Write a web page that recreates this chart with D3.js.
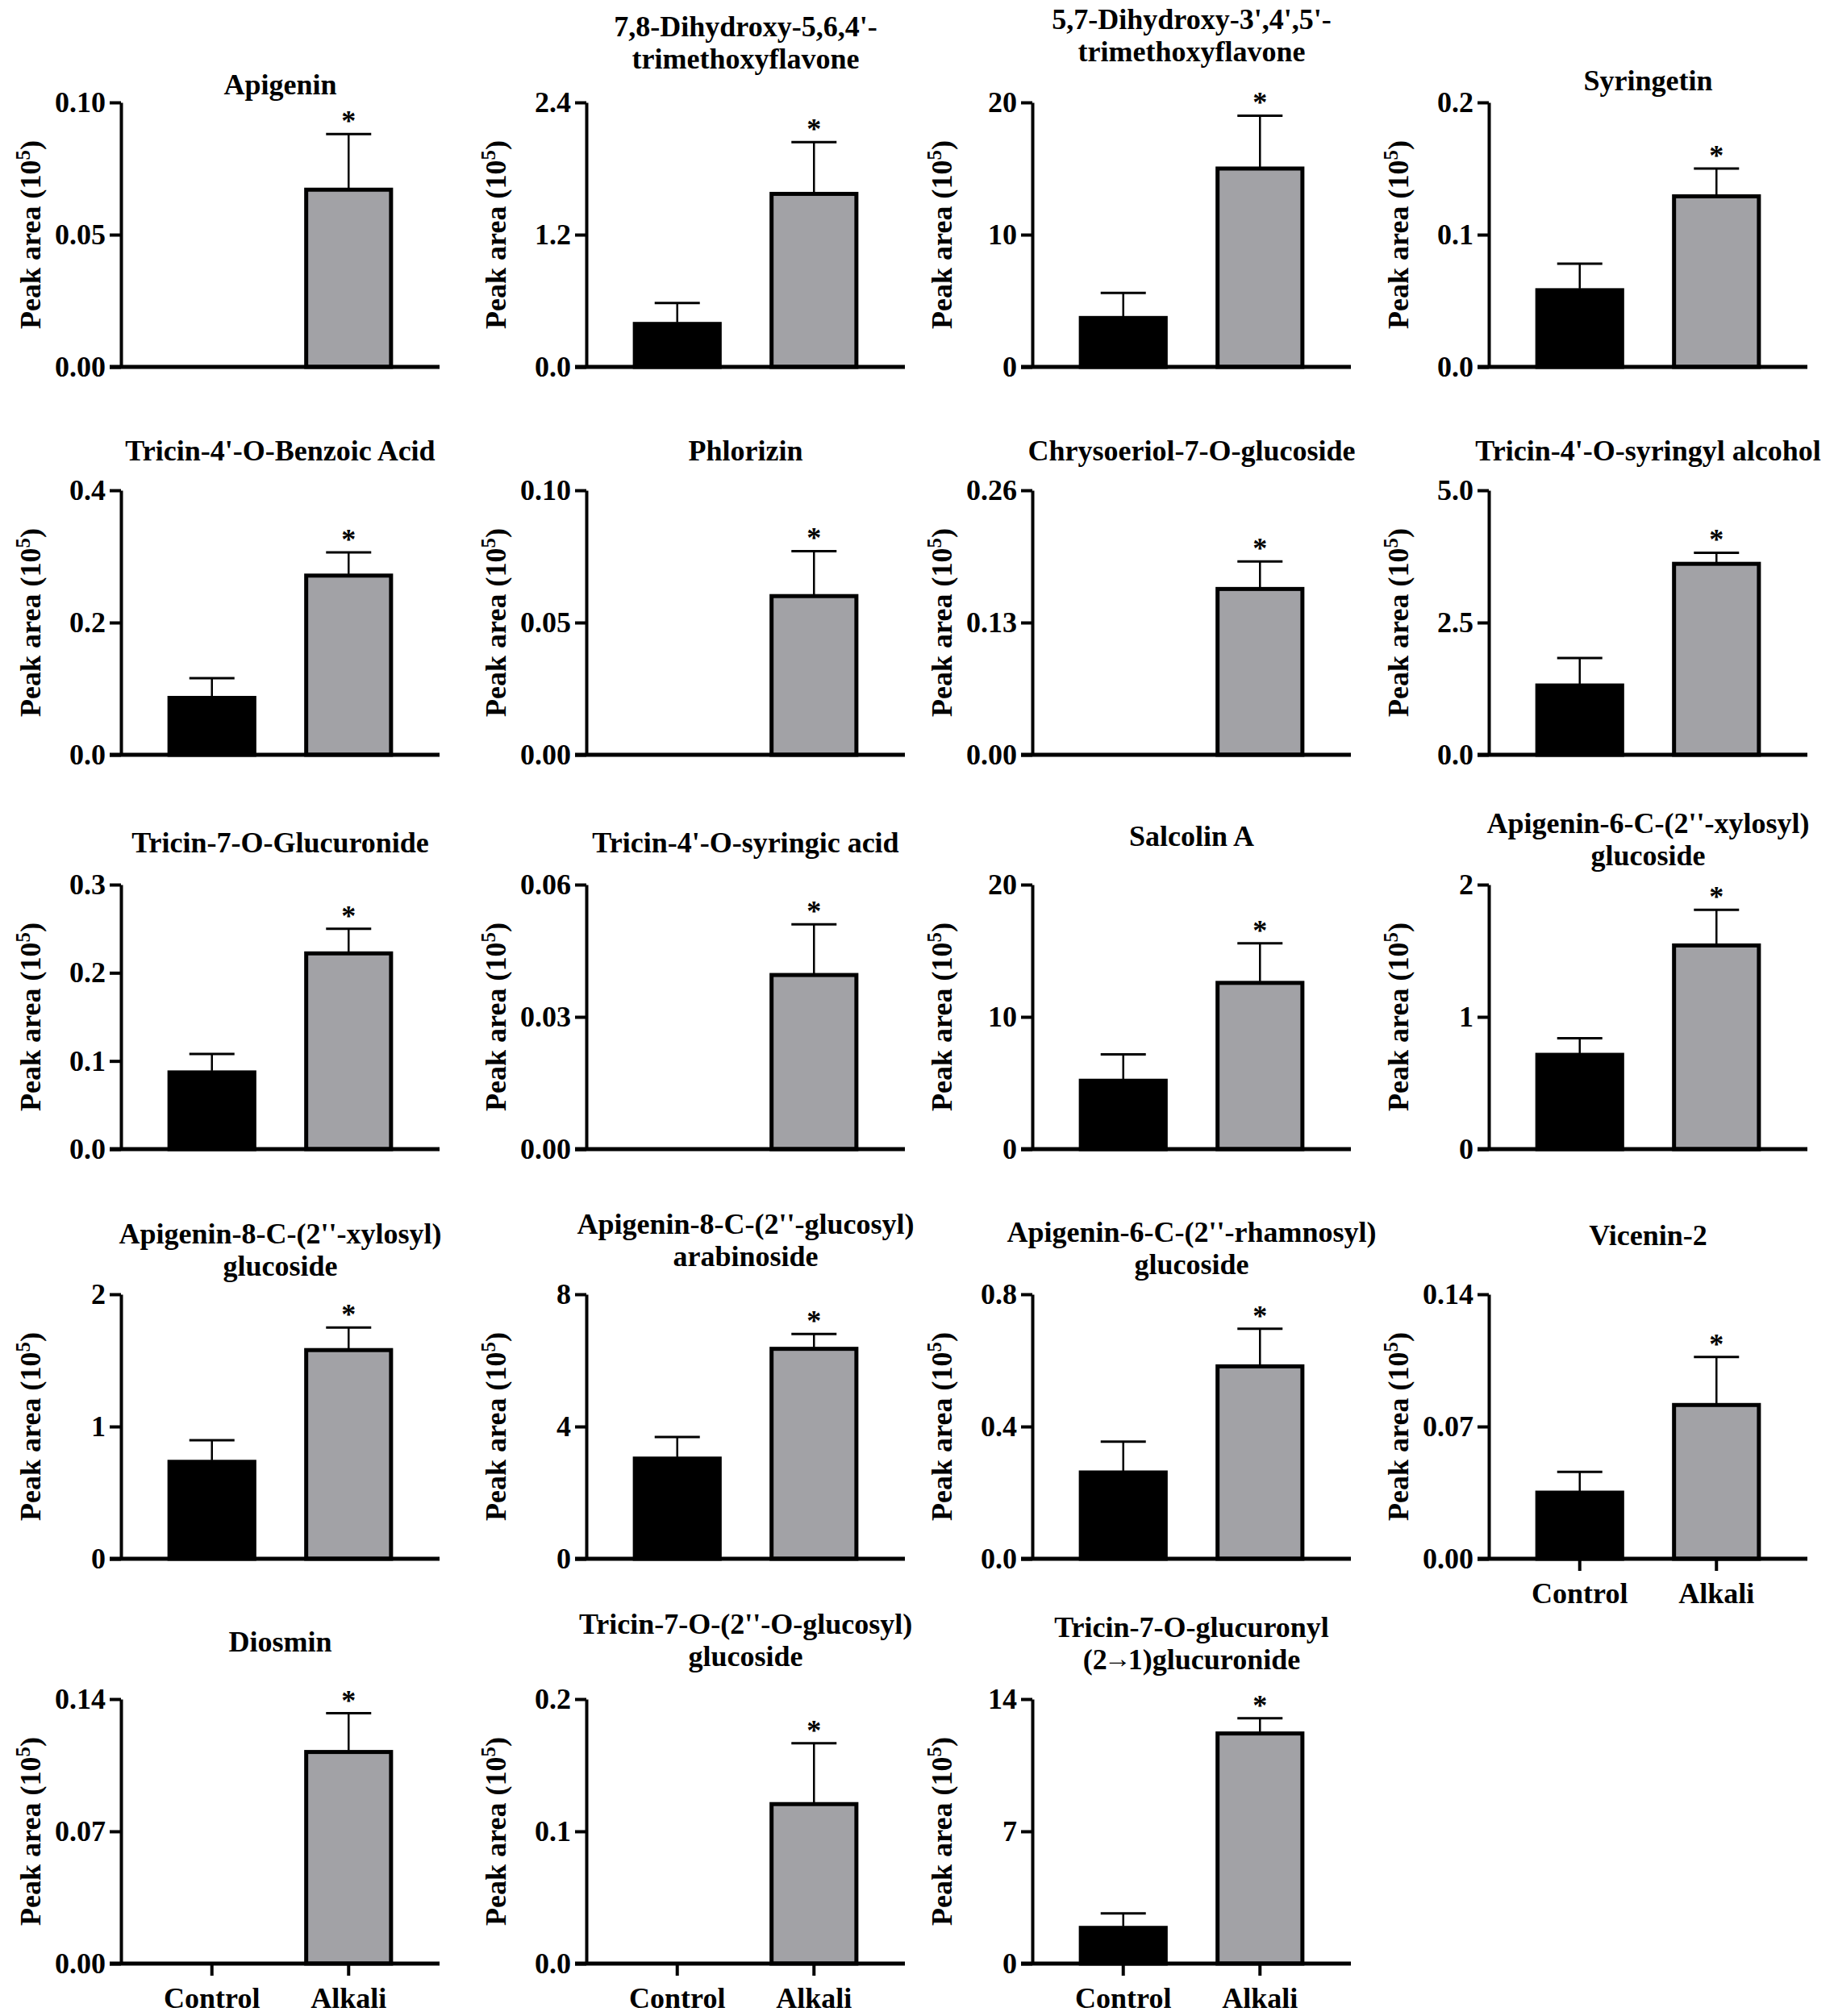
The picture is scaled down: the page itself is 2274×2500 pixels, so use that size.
<!DOCTYPE html>
<html>
<head>
<meta charset="utf-8">
<script src="https://cdn.jsdelivr.net/npm/d3@7"></script>
<style>
    body { margin: 0; background: #fff; }
    text { font-family: "Liberation Serif", "Times New Roman", serif; font-weight: bold; }
</style>
</head>
<body>
<div id="chart"></div>
<script>

// compound names (title lines)
const compounds = [
    ["Apigenin"],
    ["7,8-Dihydroxy-5,6,4'-", "trimethoxyflavone"],
    ["5,7-Dihydroxy-3',4',5'-", "trimethoxyflavone"],
    ["Syringetin"],
    ["Tricin-4'-O-Benzoic Acid"],
    ["Phlorizin"],
    ["Chrysoeriol-7-O-glucoside"],
    ["Tricin-4'-O-syringyl alcohol"],
    ["Tricin-7-O-Glucuronide"],
    ["Tricin-4'-O-syringic acid"],
    ["Salcolin A"],
    ["Apigenin-6-C-(2''-xylosyl)", "glucoside"],
    ["Apigenin-8-C-(2''-xylosyl)", "glucoside"],
    ["Apigenin-8-C-(2''-glucosyl)", "arabinoside"],
    ["Apigenin-6-C-(2''-rhamnosyl)", "glucoside"],
    ["Vicenin-2"],
    ["Diosmin"],
    ["Tricin-7-O-(2''-O-glucosyl)", "glucoside"],
    ["Tricin-7-O-glucuronyl", "(2\u21921)glucuronide"]
];

const groups = ["Control", "Alkali"];

// y tick labels per panel
const yTickLabels = [
    ["0.00", "0.05", "0.10"],
    ["0.0", "1.2", "2.4"],
    ["0", "10", "20"],
    ["0.0", "0.1", "0.2"],
    ["0.0", "0.2", "0.4"],
    ["0.00", "0.05", "0.10"],
    ["0.00", "0.13", "0.26"],
    ["0.0", "2.5", "5.0"],
    ["0.0", "0.1", "0.2", "0.3"],
    ["0.00", "0.03", "0.06"],
    ["0", "10", "20"],
    ["0", "1", "2"],
    ["0", "1", "2"],
    ["0", "4", "8"],
    ["0.0", "0.4", "0.8"],
    ["0.00", "0.07", "0.14"],
    ["0.00", "0.07", "0.14"],
    ["0.0", "0.1", "0.2"],
    ["0", "7", "14"]
];

// means and SDs (peak area, 10^5)
const controlMean = [0, 0.39, 3.7, 0.058, 0.086, 0, 0, 1.31, 0.087, 0, 5.17, 0.713, 0.733, 3.03, 0.261, 0.035, 0, 0, 1.89];
const controlSD   = [0, 0.19, 1.9, 0.020, 0.030, 0, 0, 0.52, 0.021, 0, 2.0, 0.126, 0.163, 0.65, 0.093, 0.011, 0, 0, 0.77];
const alkaliMean  = [0.067, 1.57, 15.0, 0.129, 0.271, 0.060, 0.163, 3.61, 0.222, 0.0395, 12.57, 1.54, 1.578, 6.35, 0.582, 0.0814, 0.112, 0.1206, 12.18];
const alkaliSD    = [0.021, 0.47, 4.0, 0.021, 0.035, 0.017, 0.027, 0.21, 0.028, 0.0115, 3.0, 0.27, 0.17, 0.45, 0.114, 0.0254, 0.0205, 0.046, 0.81];

// panel layout
const colX = [150, 727, 1280, 1846];
const rowY = [127, 608, 1097, 1605, 2107];
const titleGap = [10, 42, 51, 15, 37, 37, 37, 37, 40, 40, 48, 24, 23, 35, 25, 61, 59, 41, 37];
const showXLabels = [15, 16, 17, 18];


class barPanel {

    constructor(svg, index) {
        this.svg = svg;
        this.index = index;
        this.initVis();
    }

    initVis() {
        let vis = this;
        let i = vis.index;

        vis.width = 395;
        vis.height = 328;

        vis.g = vis.svg.append('g')
            .attr('transform', `translate(${colX[i % 4]}, ${rowY[Math.floor(i / 4)]})`);

        let ticks = yTickLabels[i].map(d => +d);

        vis.x = d3.scaleBand()
            .domain(groups)
            .range([0, vis.width])
            .paddingInner(0.35)
            .paddingOuter(0.34);

        vis.y = d3.scaleLinear()
            .domain([0, ticks[ticks.length - 1]])
            .range([vis.height, 0]);

        vis.data = [
            {group: "Control", mean: controlMean[i], sd: controlSD[i]},
            {group: "Alkali", mean: alkaliMean[i], sd: alkaliSD[i]}
        ];

        // bars
        vis.g.selectAll('.bar')
            .data(vis.data.filter(d => d.mean > 0))
            .enter().append('rect')
            .attr('class', 'bar')
            .attr('x', d => vis.x(d.group) + 2.5)
            .attr('width', vis.x.bandwidth() - 5)
            .attr('y', d => vis.y(d.mean))
            .attr('height', d => vis.height - vis.y(d.mean))
            .attr('fill', d => d.group === "Control" ? "#000" : "#a2a2a6")
            .attr('stroke', '#000')
            .attr('stroke-width', 5);

        // error bars (upper only)
        let err = vis.g.selectAll('.err')
            .data(vis.data.filter(d => d.sd > 0))
            .enter().append('g')
            .attr('class', 'err');

        err.append('line')
            .attr('x1', d => vis.x(d.group) + vis.x.bandwidth() / 2)
            .attr('x2', d => vis.x(d.group) + vis.x.bandwidth() / 2)
            .attr('y1', d => vis.y(d.mean) - 2)
            .attr('y2', d => vis.y(d.mean + d.sd))
            .attr('stroke', '#000')
            .attr('stroke-width', 2.5);

        err.append('line')
            .attr('x1', d => vis.x(d.group) + vis.x.bandwidth() / 2 - 28)
            .attr('x2', d => vis.x(d.group) + vis.x.bandwidth() / 2 + 28)
            .attr('y1', d => vis.y(d.mean + d.sd))
            .attr('y2', d => vis.y(d.mean + d.sd))
            .attr('stroke', '#000')
            .attr('stroke-width', 3);

        // significance mark
        let alk = vis.data[1];
        vis.g.append('text')
            .attr('x', vis.x("Alkali") + vis.x.bandwidth() / 2)
            .attr('y', vis.y(alk.mean + alk.sd) - 4)
            .attr('text-anchor', 'middle')
            .attr('font-size', 36)
            .text("*");

        // y axis
        vis.yAxis = d3.axisLeft(vis.y)
            .tickValues(ticks)
            .tickFormat((d, k) => yTickLabels[i][k])
            .tickSize(14)
            .tickSizeOuter(0)
            .tickPadding(5);

        vis.g.append('g')
            .attr('class', 'y-axis')
            .call(vis.yAxis)
            .call(g => g.selectAll('text').attr('font-size', 36).attr('font-family', '"Liberation Serif", serif').attr('font-weight', 'bold').attr('fill', '#000'))
            .call(g => g.selectAll('line').attr('stroke-width', 4).attr('stroke', '#000'))
            .call(g => g.select('.domain').attr('stroke-width', 4).attr('stroke', '#000'));

        // x baseline (runs left to meet the zero tick)
        vis.g.append('line')
            .attr('x1', -14)
            .attr('x2', vis.width)
            .attr('y1', vis.height)
            .attr('y2', vis.height)
            .attr('stroke', '#000')
            .attr('stroke-width', 5);

        if (showXLabels.includes(i)) {
            vis.xAxis = d3.axisBottom(vis.x)
                .tickSize(15)
                .tickPadding(14);

            vis.g.append('g')
                .attr('transform', `translate(0, ${vis.height})`)
                .call(vis.xAxis)
                .call(g => g.select('.domain').remove())
                .call(g => g.selectAll('text').attr('font-size', 36).attr('font-family', '"Liberation Serif", serif').attr('font-weight', 'bold').attr('fill', '#000'))
                .call(g => g.selectAll('line').attr('stroke-width', 4).attr('stroke', '#000'));
        }

        // y label
        let yl = vis.g.append('text')
            .attr('transform', `translate(-100, ${vis.height / 2}) rotate(-90)`)
            .attr('text-anchor', 'middle')
            .attr('font-size', 36);
        yl.append('tspan').text("Peak area (10");
        yl.append('tspan').attr('font-size', 25).attr('dy', -13).text("5");
        yl.append('tspan').attr('dy', 13).text(")");

        // title; the arrow glyph comes from a fallback font, so pull it in tight
        let lines = compounds[i];
        let title = vis.g.append('text')
            .attr('text-anchor', 'middle')
            .attr('font-size', 36);

        lines.forEach((line, k) => {
            let y = -titleGap[i] - (lines.length - 1 - k) * 40;
            let parts = line.split("\u2192");
            title.append('tspan')
                .attr('x', vis.width / 2)
                .attr('y', y)
                .text(parts[0]);
            if (parts.length > 1) {
                title.append('tspan')
                    .attr('dx', -4)
                    .attr('dy', -2)
                    .attr('font-size', 34)
                    .text("\u2192");
                title.append('tspan')
                    .attr('dx', -4)
                    .attr('dy', 2)
                    .text(parts[1]);
            }
        });
    }
}


let svg = d3.select("#chart").append("svg")
    .attr("width", 2274)
    .attr("height", 2500);

svg.append('rect').attr('width', 2274).attr('height', 2500).attr('fill', '#fff');

compounds.forEach((c, i) => new barPanel(svg, i));

</script>
</body>
</html>
